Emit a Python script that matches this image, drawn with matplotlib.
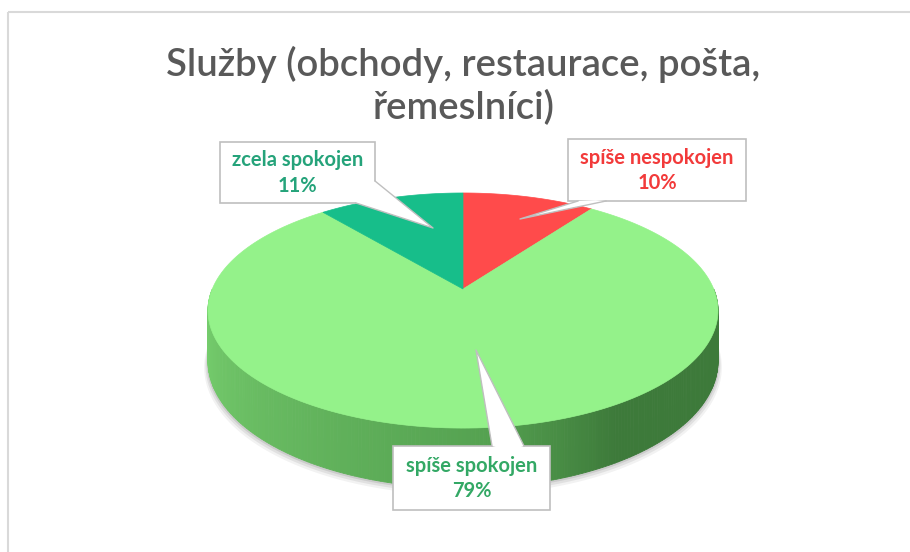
import matplotlib.pyplot as plt
import numpy as np
from matplotlib.patches import Polygon, Rectangle
from matplotlib.colors import to_rgb

plt.rcParams['font.family'] = ['Lato', 'DejaVu Sans']

# Data
title = "Služby (obchody, restaurace, pošta,\nřemeslníci)"
labels = ["spíše nespokojen", "spíše spokojen", "zcela spokojen"]
values = [10, 79, 11]
colors = ["#FF4B4B", "#94F28A", "#17BE8A"]
text_colors = ["#F23A3A", "#33A865", "#25A37A"]

# Perspective of the 3D pie (pixel coords)
CX, CY = 463, 289
D = 5.46
A, B, H = 250.7, 113.6, 49


def proj(u, v, drop=0.0):
    d = D + v
    x = CX + A * D * u / d
    y = CY - B * D * v / d + H * D / d * drop
    return x, y


fig = plt.figure(figsize=(9.1, 5.52), dpi=100)
ax = fig.add_axes([0, 0, 1, 1])
ax.set_xlim(0, 910)
ax.set_ylim(552, 0)
ax.axis("off")

# chart frame
ax.add_patch(Rectangle((8, 12), 905, 560, fill=False, edgecolor="#D9D9D9", lw=1.5))

# soft shadow under the pie
for k, al in [(6, 0.05), (4, 0.07), (2, 0.09)]:
    t = np.linspace(np.pi, 2 * np.pi, 200)
    pts = [proj(np.cos(a) * (1 + k / 400), np.sin(a), 1 + k / 50) for a in t]
    pts += [proj(np.cos(a), np.sin(a), 0.5) for a in t[::-1]]
    ax.add_patch(Polygon(pts, closed=True, facecolor="black", alpha=al, edgecolor="none"))

# side of the pie (front half), gradient from light left to dark right
light = np.array(to_rgb("#7AD371"))
mid = np.array(to_rgb("#55A251"))
dark = np.array(to_rgb("#3D7A3A"))
n = 240
th = np.linspace(np.pi, 2 * np.pi, n + 1)
for i in range(n):
    t1, t2 = th[i], th[i + 1]
    p1 = proj(np.cos(t1), np.sin(t1))
    p2 = proj(np.cos(t2), np.sin(t2))
    p3 = proj(np.cos(t2), np.sin(t2), 1)
    p4 = proj(np.cos(t1), np.sin(t1), 1)
    f = i / n
    if f < 0.52:
        c = light + (mid - light) * (f / 0.52)
    else:
        c = mid + (dark - mid) * min((f - 0.52) / 0.15, 1)
    ax.add_patch(Polygon([p1, p2, p3, p4], closed=True, facecolor=c,
                         edgecolor=c, lw=0.6))

# top surface slices, clockwise from 12 o'clock
start = np.pi / 2
total = sum(values)
for val, col in zip(values, colors):
    end = start - 2 * np.pi * val / total
    t = np.linspace(start, end, 200)
    pts = [proj(0, 0)] + [proj(np.cos(a), np.sin(a)) for a in t]
    ax.add_patch(Polygon(pts, closed=True, facecolor=col, edgecolor=col, lw=0.5))
    start = end

# callout labels: box (x0, y0, x1, y1), pointer tip, pointer base
boxes = [(568, 139, 746, 201), (393, 446, 550, 510), (220, 142, 375, 203)]
tips = [(520, 219), (476, 350), (433, 228)]
bases = [[(578, 201), (606, 201)], [(492, 446), (524, 446)], [(375, 181), (356, 203)]]
edge = "#BFBFBF"
for lab, val, tc, box, tip, base in zip(labels, values, text_colors, boxes, tips, bases):
    x0, y0, x1, y1 = box
    ax.add_patch(Rectangle((x0, y0), x1 - x0, y1 - y0, facecolor="white",
                           edgecolor=edge, lw=1.2))
    bx = [b[0] for b in base]
    by = [b[1] for b in base]
    cx_in = (bx[0] + bx[1]) / 2
    cy_in = (by[0] + by[1]) / 2
    inner = (cx_in + (cx_in - tip[0]) * 0.05, cy_in + (cy_in - tip[1]) * 0.05)
    ax.add_patch(Polygon([tip, base[0], inner, base[1]], closed=True,
                         facecolor="white", edgecolor="none"))
    ax.plot([base[0][0], tip[0], base[1][0]], [base[0][1], tip[1], base[1][1]],
            color=edge, lw=1.0)
    xm = (x0 + x1) / 2
    ym = (y0 + y1) / 2
    ax.text(xm, ym - 12, lab, ha="center", va="center", fontsize=14.5,
            fontweight="bold", color=tc)
    ax.text(xm, ym + 13, f"{val}%", ha="center", va="center", fontsize=14.5,
            fontweight="bold", color=tc)

ax.text(463, 86, title, ha="center", va="center", fontsize=27.5, color="#595959",
        fontweight="semibold", linespacing=1.25)

fig.savefig("out.png", dpi=100)
